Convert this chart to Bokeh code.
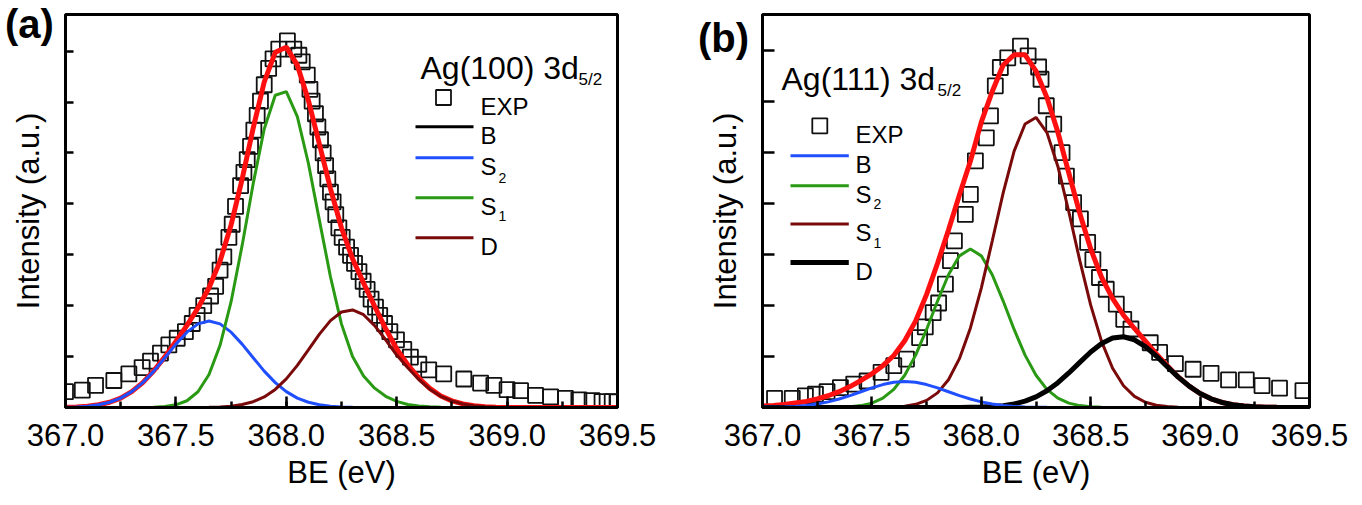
from bokeh.plotting import figure
from bokeh.layouts import row, column
from bokeh.models import (Range1d, SingleIntervalTicker, PrintfTickFormatter, Label, Arrow,
                          BoxAnnotation, ColumnDataSource, CustomJSTickFormatter, Div)
from bokeh.embed import file_html
from bokeh.resources import INLINE

FONT = "Liberation Sans"

# ---------------- data ----------------
# energy grid (eV) on which the fitted curves are read
be_grid = [367.00, 367.05, 367.10, 367.15, 367.20, 367.25, 367.30, 367.35, 367.40, 367.45,
           367.50, 367.55, 367.60, 367.65, 367.70, 367.75, 367.80, 367.85, 367.90, 367.95,
           368.00, 368.05, 368.10, 368.15, 368.20, 368.25, 368.30, 368.35, 368.40, 368.45,
           368.50, 368.55, 368.60, 368.65, 368.70, 368.75, 368.80, 368.85, 368.90, 368.95,
           369.00, 369.05, 369.10, 369.15, 369.20, 369.25, 369.30, 369.35, 369.40, 369.45,
           369.50]

# ---- panel (a): Ag(100) 3d5/2 ----
a_exp_be = [367.000, 367.076, 367.136, 367.219, 367.287, 367.347, 367.385, 367.430, 367.468, 367.506,
            367.543, 367.574, 367.596, 367.626, 367.657, 367.680, 367.700, 367.717, 367.740, 367.755,
            367.770, 367.793, 367.808, 367.823, 367.838, 367.853, 367.868, 367.883, 367.900, 367.920,
            367.940, 367.966, 368.005, 368.034, 368.057, 368.072, 368.095, 368.107, 368.117, 368.132,
            368.143, 368.155, 368.167, 368.178, 368.188, 368.200, 368.212, 368.224, 368.238, 368.253,
            368.273, 368.291, 368.309, 368.329, 368.348, 368.366, 368.384, 368.404, 368.423, 368.445,
            368.469, 368.499, 368.532, 368.562, 368.600, 368.645, 368.713, 368.804, 368.880, 368.940,
            369.000, 369.061, 369.129, 369.197, 369.264, 369.325, 369.385, 369.430, 369.476, 369.500]
a_exp_int = [0.31, 0.34, 0.435, 0.53, 0.66, 0.785, 0.91, 1.07, 1.23, 1.36,
             1.49, 1.65, 1.81, 2.00, 2.19, 2.38, 2.70, 2.96, 3.34, 3.60,
             3.95, 4.36, 4.62, 4.87, 5.13, 5.45, 5.74, 6.02, 6.34, 6.66,
             6.85, 7.04, 7.20, 7.04, 6.92, 6.79, 6.53, 6.25, 6.02, 5.77,
             5.51, 5.26, 5.00, 4.75, 4.49, 4.23, 4.04, 3.79, 3.53, 3.34,
             3.15, 2.99, 2.83, 2.67, 2.48, 2.32, 2.13, 1.97, 1.81, 1.65,
             1.49, 1.33, 1.14, 0.99, 0.85, 0.74, 0.66, 0.56, 0.48, 0.435,
             0.35, 0.33, 0.24, 0.21, 0.18, 0.15, 0.135, 0.115, 0.115, 0.11]
a_fit = [0.005, 0.012, 0.026, 0.053, 0.103, 0.185, 0.312, 0.489, 0.721, 0.995,
         1.297, 1.613, 1.954, 2.353, 2.876, 3.586, 4.487, 5.488, 6.394, 6.978,
         7.078, 6.725, 6.034, 5.171, 4.301, 3.526, 2.922, 2.444, 1.989, 1.550,
         1.150, 0.840, 0.580, 0.375, 0.225, 0.130, 0.070, 0.035, 0.015, 0.006,
         0.002, 0, 0, 0, 0, 0, 0, 0, 0, 0, 0]
a_B = [0] * 51
a_S2 = [0.005, 0.012, 0.026, 0.053, 0.103, 0.185, 0.312, 0.489, 0.715, 0.977,
        1.245, 1.480, 1.642, 1.700, 1.642, 1.480, 1.245, 0.977, 0.715, 0.489,
        0.312, 0.185, 0.103, 0.053, 0.026, 0.012, 0.005, 0.002, 0.001, 0,
        0, 0, 0, 0, 0, 0, 0, 0, 0, 0, 0, 0, 0, 0, 0, 0, 0, 0, 0, 0, 0]
a_S1 = [0, 0, 0, 0, 0, 0, 0, 0, 0.006, 0.018,
        0.052, 0.133, 0.310, 0.648, 1.222, 2.079, 3.184, 4.397, 5.471, 6.134,
        6.204, 5.712, 4.798, 3.676, 2.569, 1.638, 1.000, 0.620, 0.380, 0.220,
        0.120, 0.060, 0.030, 0.015, 0.005, 0, 0, 0, 0, 0,
        0, 0, 0, 0, 0, 0, 0, 0, 0, 0, 0]
a_D = [0, 0, 0, 0, 0, 0, 0, 0, 0, 0,
       0, 0, 0.002, 0.005, 0.012, 0.027, 0.058, 0.114, 0.208, 0.355,
       0.562, 0.828, 1.133, 1.442, 1.706, 1.876, 1.917, 1.822, 1.609, 1.330,
       1.030, 0.780, 0.550, 0.360, 0.220, 0.130, 0.070, 0.035, 0.015, 0.006,
       0.002, 0, 0, 0, 0, 0, 0, 0, 0, 0, 0]

# ---- panel (b): Ag(111) 3d5/2 ----
b_exp_be = [367.055, 367.136, 367.196, 367.242, 367.295, 367.356, 367.417, 367.478, 367.542, 367.600,
            367.658, 367.718, 367.744, 367.780, 367.805, 367.836, 367.859, 367.877, 367.927, 367.950,
            367.973, 368.023, 368.042, 368.064, 368.087, 368.121, 368.179, 368.214, 368.262, 368.273,
            368.297, 368.331, 368.369, 368.389, 368.422, 368.453, 368.486, 368.510, 368.540, 368.571,
            368.617, 368.651, 368.684, 368.772, 368.815, 368.887, 368.968, 369.050, 369.130, 369.211,
            369.283, 369.363, 369.470]
b_exp_int = [0.18, 0.18, 0.23, 0.26, 0.31, 0.39, 0.46, 0.52, 0.69, 0.82,
             0.95, 1.37, 1.58, 1.86, 2.05, 2.42, 2.88, 3.27, 3.79, 4.18,
             4.84, 5.29, 5.72, 6.31, 6.67, 6.86, 7.09, 6.90, 6.68, 6.44,
             5.92, 5.56, 5.00, 4.54, 4.02, 3.70, 3.24, 2.90, 2.55, 2.32,
             2.03, 1.73, 1.54, 1.27, 1.08, 0.86, 0.75, 0.67, 0.54, 0.54,
             0.43, 0.38, 0.33]
b_fit = [0.03, 0.04, 0.06, 0.09, 0.12, 0.17, 0.23, 0.31, 0.41, 0.53,
         0.66, 0.82, 1.02, 1.31, 1.70, 2.22, 2.83, 3.48, 4.17, 4.83,
         5.60, 6.20, 6.72, 6.92, 6.92, 6.60, 6.08, 5.40, 4.60, 3.81,
         3.11, 2.55, 2.14, 1.81, 1.55, 1.30, 1.05, 0.82, 0.60, 0.42,
         0.275, 0.17, 0.10, 0.054, 0.028, 0.013, 0.006, 0.003, 0.001, 0, 0]
b_B = [0.003, 0.006, 0.012, 0.022, 0.041, 0.069, 0.110, 0.166, 0.233, 0.309,
       0.385, 0.450, 0.494, 0.510, 0.494, 0.450, 0.385, 0.309, 0.233, 0.166,
       0.110, 0.069, 0.041, 0.022, 0.012, 0.006, 0.003, 0.001, 0, 0,
       0, 0, 0, 0, 0, 0, 0, 0, 0, 0, 0, 0, 0, 0, 0, 0, 0, 0, 0, 0, 0]
b_S2 = [0, 0, 0, 0, 0, 0, 0, 0.005, 0.015, 0.037,
        0.086, 0.183, 0.355, 0.632, 1.028, 1.531, 2.088, 2.605, 2.975, 3.110,
        2.975, 2.605, 2.088, 1.531, 1.028, 0.632, 0.355, 0.183, 0.086, 0.037,
        0.015, 0.005, 0.002, 0, 0, 0, 0, 0, 0, 0,
        0, 0, 0, 0, 0, 0, 0, 0, 0, 0, 0]
b_S1 = [0, 0, 0, 0, 0, 0, 0, 0, 0, 0,
        0, 0, 0.010, 0.027, 0.063, 0.140, 0.287, 0.545, 0.958, 1.557,
        2.343, 3.266, 4.212, 5.030, 5.561, 5.691, 5.392, 4.729, 3.840, 2.886,
        2.008, 1.293, 0.771, 0.426, 0.218, 0.103, 0.045, 0.018, 0.007, 0.002,
        0, 0, 0, 0, 0, 0, 0, 0, 0, 0, 0]
b_D = [0, 0, 0, 0, 0, 0, 0, 0, 0, 0,
       0, 0, 0, 0, 0, 0, 0, 0, 0, 0.004,
       0.008, 0.018, 0.036, 0.069, 0.124, 0.208, 0.328, 0.486, 0.677, 0.885,
       1.088, 1.256, 1.362, 1.388, 1.329, 1.195, 1.009, 0.801, 0.597, 0.418,
       0.275, 0.170, 0.099, 0.054, 0.028, 0.013, 0.006, 0.003, 0.001, 0, 0]

x_ticks_major = 0.5
x_label = "BE (eV)"
y_label = "Intensity (a.u.)"

RED = "#FF1010"
BLUE = "#1F4FFF"
GREEN = "#2A9A14"
WINE = "#7A0A0A"
BLACK = "#000000"
SQ = "#111111"

H = 503
LEG_FS = "24px"
SUB_FS = "14px"


def make_panel(width, mb_left, mb_right, mb_top, mb_bottom, ytop, ytick_len, ylab_standoff):
    p = figure(width=width, height=H, output_backend="svg", toolbar_location=None, tools="",
               x_range=Range1d(367.0, 369.5), y_range=Range1d(0, ytop),
               min_border_left=mb_left, min_border_right=mb_right,
               min_border_top=mb_top, min_border_bottom=mb_bottom)
    p.xgrid.visible = False
    p.ygrid.visible = False
    p.outline_line_color = "black"
    p.outline_line_width = 3
    p.background_fill_color = "white"
    p.border_fill_color = "white"

    xa = p.xaxis[0]
    xa.ticker = SingleIntervalTicker(interval=x_ticks_major, num_minor_ticks=2)
    xa.formatter = PrintfTickFormatter(format="%.1f")
    xa.axis_line_width = 3
    xa.major_tick_in = 11
    xa.major_tick_out = 0
    xa.minor_tick_in = 6
    xa.minor_tick_out = 0
    xa.major_tick_line_width = 2.5
    xa.minor_tick_line_width = 2.5
    xa.major_label_text_font = FONT
    xa.major_label_text_font_size = "31px"
    xa.major_label_text_color = "black"
    xa.major_label_standoff = 16
    xa.axis_label = x_label
    xa.axis_label_text_font = FONT
    xa.axis_label_text_font_size = "31px"
    xa.axis_label_text_font_style = "normal"
    xa.axis_label_text_color = "black"
    xa.axis_label_standoff = 6

    ya = p.yaxis[0]
    ya.ticker = SingleIntervalTicker(interval=1, num_minor_ticks=0)
    ya.formatter = CustomJSTickFormatter(code="return ''")
    ya.axis_line_width = 3
    ya.major_tick_in = ytick_len
    ya.major_tick_out = 0
    ya.major_tick_line_width = 2.5
    ya.minor_tick_line_color = None
    ya.major_label_standoff = 0
    ya.axis_label = y_label
    ya.axis_label_text_font = FONT
    ya.axis_label_text_font_size = "31px"
    ya.axis_label_text_font_style = "normal"
    ya.axis_label_text_color = "black"
    ya.axis_label_standoff = ylab_standoff
    return p


def text(p, s, x, y, size, style="normal"):
    p.add_layout(Label(x=x, y=y, x_units="screen", y_units="screen", text=s,
                       text_font=FONT, text_font_size=size, text_color="black",
                       text_baseline="alphabetic", text_align="left", text_font_style=style))


def key_line(p, x0, x1, y, color, width):
    p.add_layout(Arrow(x_start=x0, y_start=y, x_end=x1, y_end=y, start_units="screen",
                       end_units="screen", start=None, end=None,
                       line_color=color, line_width=width))


def key_square(p, cx, cy, half):
    p.add_layout(BoxAnnotation(left=cx - half, right=cx + half, bottom=cy - half, top=cy + half,
                               left_units="screen", right_units="screen",
                               bottom_units="screen", top_units="screen",
                               fill_alpha=0, line_color=SQ, line_width=1.8, line_alpha=1))


# ---------------- panel (a) ----------------
pa = make_panel(688, 65, 71, 5, 95, 7.72, 8, 20)
src_a = ColumnDataSource(dict(x=be_grid, fit=a_fit, B=a_B, S2=a_S2, S1=a_S1, D=a_D))
pa.scatter(a_exp_be, a_exp_int, marker="square", size=15, fill_color=None,
           line_color=SQ, line_width=1.8)
pa.line("x", "B", source=src_a, line_color=BLACK, line_width=3)
pa.line("x", "fit", source=src_a, line_color=RED, line_width=5)
pa.line("x", "S2", source=src_a, line_color=BLUE, line_width=3)
pa.line("x", "S1", source=src_a, line_color=GREEN, line_width=3)
pa.line("x", "D", source=src_a, line_color=WINE, line_width=3)

# legend (a)
key_square(pa, 378, 310, 7.5)
key_line(pa, 350, 408, 280.7, BLACK, 3)
key_line(pa, 350, 408, 249.7, BLUE, 3)
key_line(pa, 350, 408, 209.7, GREEN, 3)
key_line(pa, 350, 408, 169.7, WINE, 3)
text(pa, "EXP", 415, 301.4, LEG_FS)
text(pa, "B", 415, 272.1, LEG_FS)
text(pa, "S", 415, 241.1, LEG_FS)
text(pa, "S", 415, 201.1, LEG_FS)
text(pa, "D", 415, 161.1, LEG_FS)
text(pa, "2", 433, 229.7, SUB_FS)
text(pa, "1", 433, 191.3, SUB_FS)
text(pa, "Ag(100) 3d", 355, 340, "32px")
text(pa, "5/2", 513, 328, "17px")

# ---------------- panel (b) ----------------
pb = make_panel(672, 74, 51, 14, 96, 7.71, 12, 20)
src_b = ColumnDataSource(dict(x=be_grid, fit=b_fit, B=b_B, S2=b_S2, S1=b_S1, D=b_D))
pb.scatter(b_exp_be, b_exp_int, marker="square", size=15, fill_color=None,
           line_color=SQ, line_width=1.8)
pb.line("x", "fit", source=src_b, line_color=RED, line_width=5)
pb.line("x", "S2", source=src_b, line_color=GREEN, line_width=3)
pb.line("x", "S1", source=src_b, line_color=WINE, line_width=3)
pb.line("x", "D", source=src_b, line_color=BLACK, line_width=5)
pb.line("x", "B", source=src_b, line_color=BLUE, line_width=3)

# legend (b)
key_square(pb, 57.3, 281.7, 7.5)
key_line(pb, 28, 86.3, 251.7, BLUE, 3)
key_line(pb, 28, 86.3, 221.7, GREEN, 3)
key_line(pb, 28, 86.3, 183.4, WINE, 3)
key_line(pb, 28, 86.3, 145, BLACK, 5)
text(pb, "EXP", 93, 273.1, LEG_FS)
text(pb, "B", 93, 243.1, LEG_FS)
text(pb, "S", 93, 213.1, LEG_FS)
text(pb, "S", 93, 174.8, LEG_FS)
text(pb, "D", 93, 136.4, LEG_FS)
text(pb, "2", 111, 203.4, SUB_FS)
text(pb, "1", 111, 165, SUB_FS)
text(pb, "Ag(111) 3d", 19, 328.4, "32px")
text(pb, "5/2", 175, 316.7, "17px")

# panel letters, overlaid in the top-left corners (taken out of the layout flow)
panel_tags = Div(
    text=("<div style=\"position:absolute;left:0px;top:-1px;font-family:'Liberation Sans';"
          "font-weight:bold;font-size:40px;line-height:1;color:black;white-space:nowrap;\">(a)</div>"
          "<div style=\"position:absolute;left:693px;top:13px;font-family:'Liberation Sans';"
          "font-weight:bold;font-size:40px;line-height:1;color:black;white-space:nowrap;\">(b)</div>"),
    width=1360, height=0,
    styles={"position": "absolute", "top": "0px", "left": "0px", "z-index": "10",
            "overflow": "visible"})

layout = column(row(pa, pb), panel_tags)
open("out.html", "w").write(file_html(layout, INLINE))
